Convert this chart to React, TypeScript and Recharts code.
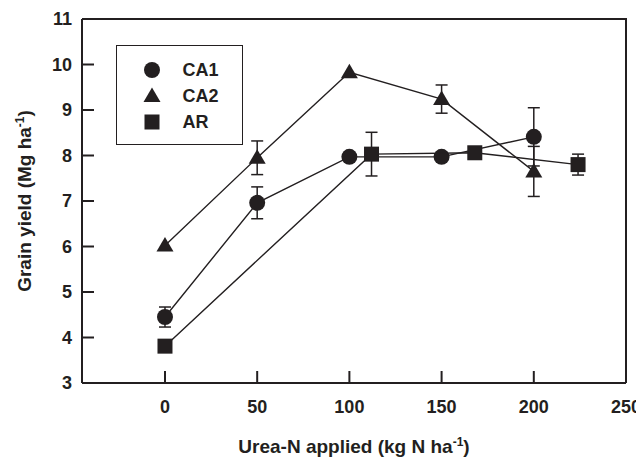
import React from "react";
import { ScatterChart, Scatter, XAxis, YAxis, ErrorBar, Legend } from "recharts";

const INK = "#231f20";
const FONT = "'Liberation Sans', Arial, sans-serif";

// urea-N rates (kg N/ha)
const caRates = [0, 50, 100, 150, 200];
const arRates = [0, 112, 168, 224];

// grain yield (Mg/ha) and error bars
const ca1Yield = [4.45, 6.96, 7.97, 7.97, 8.41];
const ca1Err = [0.22, 0.35, 0.05, 0.05, 0.64];
const ca2Yield = [6.02, 7.95, 9.83, 9.24, 7.65];
const ca2Err = [0, 0.37, 0, 0.31, 0.55];
const arYield = [3.81, 8.03, 8.06, 7.8];
const arErr = [0, 0.48, 0, 0.23];

const seriesNames = ["CA1", "CA2", "AR"];
const xTicks = [0, 50, 100, 150, 200, 250];
const yTicks = [3, 4, 5, 6, 7, 8, 9, 10, 11];
const xDomain = [-45, 250];
const yDomain = [3, 11];

const toPoints = (xs: number[], ys: number[], errs: number[]) =>
  xs.map((x, i) => ({ x, y: ys[i], err: errs[i] }));

const ca1 = toPoints(caRates, ca1Yield, ca1Err);
const ca2 = toPoints(caRates, ca2Yield, ca2Err);
const ar = toPoints(arRates, arYield, arErr);

// top and right edges of the box, traced through the axis corners
const frame = [
  { x: xDomain[0], y: yDomain[1] },
  { x: xDomain[1], y: yDomain[1] },
  { x: xDomain[1], y: yDomain[0] },
];

const X_MARGIN = 30;
const Y_MARGIN = 10;
const TICK_LEN = 12;

function Circle({ cx, cy }: any) {
  return <circle cx={cx} cy={cy} r={8} fill={INK} />;
}
function Triangle({ cx, cy }: any) {
  return <polygon points={`${cx},${cy - 8.5} ${cx + 8.5},${cy + 6} ${cx - 8.5},${cy + 6}`} fill={INK} />;
}
function Square({ cx, cy }: any) {
  return <rect x={cx - 7.5} y={cy - 7.5} width={15} height={15} fill={INK} />;
}
function NoMark() {
  return <g />;
}

const MARKERS: Record<string, (p: any) => React.ReactElement> = {
  CA1: Circle,
  CA2: Triangle,
  AR: Square,
};

function XTick({ x, y, payload }: any) {
  const axisY = y - X_MARGIN;
  return (
    <g>
      <line x1={x} x2={x} y1={axisY} y2={axisY - TICK_LEN} stroke={INK} strokeWidth={2} />
      <text x={x} y={y} textAnchor="middle" fill={INK} fontSize={18} fontWeight="bold" fontFamily={FONT}>
        {payload.value}
      </text>
    </g>
  );
}

function YTick({ x, y, payload }: any) {
  const axisX = x + Y_MARGIN;
  return (
    <g>
      <line x1={axisX} x2={axisX + TICK_LEN} y1={y} y2={y} stroke={INK} strokeWidth={2} />
      <text x={x} y={y} dy="0.36em" textAnchor="end" fill={INK} fontSize={18} fontWeight="bold" fontFamily={FONT}>
        {payload.value}
      </text>
    </g>
  );
}

function XLabel({ viewBox }: any) {
  return (
    <text x={viewBox.x + viewBox.width / 2} y={viewBox.y + 70} textAnchor="middle" fill={INK}
      fontSize={19} fontWeight="bold" fontFamily={FONT}>
      Urea-N applied (kg N ha
      <tspan dy={-7} fontSize={12}>-1</tspan>
      <tspan dy={7}>)</tspan>
    </text>
  );
}

function YLabel({ viewBox }: any) {
  const cx = 16;
  const cy = viewBox.y + viewBox.height / 2;
  return (
    <text x={cx} y={cy} transform={`rotate(-90 ${cx} ${cy})`} textAnchor="middle" dy="0.36em" fill={INK}
      fontSize={19} fontWeight="bold" fontFamily={FONT}>
      Grain yield (Mg ha
      <tspan dy={-7} fontSize={12}>-1</tspan>
      <tspan dy={7}>)</tspan>
    </text>
  );
}

function LegendBox() {
  return (
    <div
      style={{
        width: 127,
        height: 100,
        boxSizing: "border-box",
        border: `1.5px solid ${INK}`,
        paddingTop: 11,
        paddingLeft: 25.5,
        background: "#fff",
      }}
    >
      {seriesNames.map((name) => {
        const Marker = MARKERS[name];
        return (
          <div key={name} style={{ display: "flex", alignItems: "center", height: 26 }}>
            <svg width={18} height={18}>
              <Marker cx={9} cy={9} />
            </svg>
            <span
              style={{
                marginLeft: 22,
                color: INK,
                fontFamily: FONT,
                fontWeight: "bold",
                fontSize: 18,
              }}
            >
              {name}
            </span>
          </div>
        );
      })}
    </div>
  );
}

export default function App() {
  const line = { stroke: INK, strokeWidth: 1.4 };
  return (
    <div style={{ width: 636, height: 450 }}>
      <ScatterChart width={636} height={450} margin={{ top: 11, right: 18, bottom: 0, left: 0 }}>
        <XAxis
          dataKey="x"
          type="number"
          domain={xDomain}
          ticks={xTicks}
          height={75}
          tickSize={0}
          tickMargin={X_MARGIN}
          tickLine={false}
          tick={<XTick />}
          axisLine={{ stroke: INK, strokeWidth: 2 }}
          label={{ content: XLabel }}
        />
        <YAxis
          dataKey="y"
          type="number"
          domain={yDomain}
          ticks={yTicks}
          width={74}
          tickSize={0}
          tickMargin={Y_MARGIN}
          tickLine={false}
          tick={<YTick />}
          axisLine={{ stroke: INK, strokeWidth: 2 }}
          label={{ content: YLabel }}
        />
        <Legend
          layout="horizontal"
          verticalAlign="middle"
          align="center"
          wrapperStyle={{ left: 108, top: 37, width: 127, height: 100 }}
          content={<LegendBox />}
        />
        <Scatter
          name="frame"
          data={frame}
          line={{ stroke: INK, strokeWidth: 2 }}
          shape={NoMark}
          legendType="none"
          isAnimationActive={false}
        />
        <Scatter name="CA1" data={ca1} line={line} shape={Circle} isAnimationActive={false}>
          <ErrorBar dataKey="err" direction="y" width={6} stroke={INK} strokeWidth={1.5} />
        </Scatter>
        <Scatter name="CA2" data={ca2} line={line} shape={Triangle} isAnimationActive={false}>
          <ErrorBar dataKey="err" direction="y" width={6} stroke={INK} strokeWidth={1.5} />
        </Scatter>
        <Scatter name="AR" data={ar} line={line} shape={Square} isAnimationActive={false}>
          <ErrorBar dataKey="err" direction="y" width={6} stroke={INK} strokeWidth={1.5} />
        </Scatter>
      </ScatterChart>
    </div>
  );
}
